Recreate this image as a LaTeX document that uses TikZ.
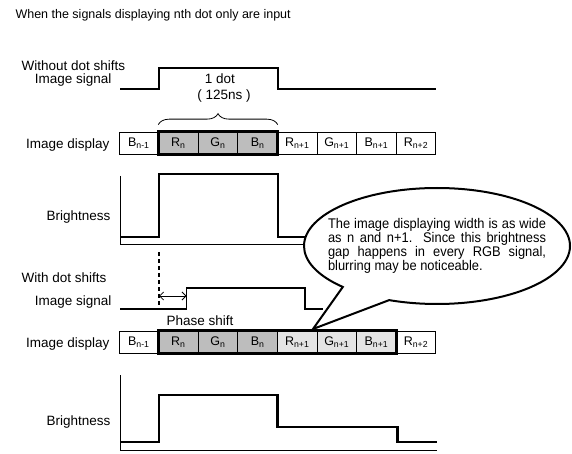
\documentclass[tikz,border=0pt]{standalone}
\usepackage{fontspec}
\setmainfont{Liberation Sans}
\newfontfamily\notefont[FakeStretch=0.92]{Liberation Sans}
\usepackage{xcolor}
\usetikzlibrary{arrows.meta, positioning, decorations.pathreplacing, shapes.callouts}

\definecolor{dotgray}{HTML}{BDBDBD}
\definecolor{nextgray}{HTML}{E4E4E4}

\tikzset{
  wave/.style={line width=2.2pt},
  thinwave/.style={line width=1.1pt},
  axis/.style={line width=0.8pt},
  lbl/.style={font=\fontsize{13.5}{15}\selectfont},
  cell/.style={draw, line width=0.7pt, minimum width=39.6pt, minimum height=22pt,
    inner sep=0pt, font=\fontsize{12.5}{14}\selectfont},
  group/.style={draw, line width=2.6pt},
}

\begin{document}
\begin{tikzpicture}[x=1pt, y=1pt]
  \useasboundingbox (0,0) rectangle (572,453);
  \node[anchor=base west, font=\fontsize{12.5}{14}\selectfont] (title) at (12,434)
    {When the signals displaying nth dot only are input};

  % ---------- WITHOUT DOT SHIFTS ----------
  \node[lbl, anchor=base west, inner ysep=1pt] (without) at (18,382) {Without dot shifts};
  \node[lbl, anchor=base east, inner ysep=1pt] (sig1) at (115,369) {Image signal};
  \draw[wave] (120,364) -- (159,364) |- (278,385) |- (436,364);
  \node[lbl, anchor=base] (onedot) at (220,369) {1 dot};
  \node[lbl, anchor=base] (period) at (224,353) {( 125ns )};

  \node[lbl, anchor=base east] (disp1) at (113,304) {Image display};
  \foreach \i/\t/\f in {0/B\textsubscript{n-1}/white, 1/R\textsubscript{n}/dotgray,
      2/G\textsubscript{n}/dotgray, 3/B\textsubscript{n}/dotgray,
      4/R\textsubscript{n+1}/white, 5/G\textsubscript{n+1}/white,
      6/B\textsubscript{n+1}/white, 7/R\textsubscript{n+2}/white}
    \node[cell, fill=\f] (a\i) at (138.8+39.6*\i,310) {\t};
  \draw[group] (a1.north west) rectangle (a3.south east);
  \draw[line width=0.8pt, decorate, decoration={brace, amplitude=11pt}]
    ([yshift=7pt]a1.north west) -- ([yshift=7pt]a3.north east);

  \node[lbl, anchor=base east] (bright1) at (114,233) {Brightness};
  \draw[axis] (120,277) |- (436,209);
  \draw[wave] (120,216) -- (159,216) |- (278,279) |- (436,216);

  % ---------- WITH DOT SHIFTS ----------
  \coordinate (edge) at (159,201);
  \coordinate (shift) at (159,157);
  \coordinate (rise) at (186.5,157);
  \draw[line width=1.8pt, dash pattern=on 4pt off 3pt] (edge) -- (159,148);

  \node[lbl, anchor=base west, inner ysep=1pt] (with) at (18,171) {With dot shifts};
  \node[lbl, anchor=base east, inner ysep=1pt] (sig2) at (115,148) {Image signal};
  \draw[thinwave] (120,144) -- (186.5,144) |- (305,165) |- (323,144);
  \draw[line width=0.8pt, {Straight Barb[length=4pt,width=8pt]}-{Straight Barb[length=4pt,width=8pt]}]
    (shift) -- (rise);
  \node[lbl, anchor=base west] (phase) at (163,128) {Phase shift};

  \node[lbl, anchor=base east] (disp2) at (113,106) {Image display};
  \foreach \i/\t/\f in {0/B\textsubscript{n-1}/white, 1/R\textsubscript{n}/dotgray,
      2/G\textsubscript{n}/dotgray, 3/B\textsubscript{n}/dotgray,
      4/R\textsubscript{n+1}/nextgray, 5/G\textsubscript{n+1}/nextgray,
      6/B\textsubscript{n+1}/nextgray, 7/R\textsubscript{n+2}/white}
    \node[cell, fill=\f] (b\i) at (138.8+39.6*\i,111) {\t};
  \draw[group] (b1.north west) rectangle (b6.south east);

  \node[lbl, anchor=base east] (bright2) at (114,28) {Brightness};
  \draw[axis] (120,78) |- (437,3);
  \draw[wave] (120,11) -- (159,11) |- (277.5,58) |- (397.5,26) |- (437,11);

  % ---------- NOTE ----------
  \coordinate (tip) at (313,124);
  \node[ellipse callout, draw, fill=white, line width=2pt, minimum width=266pt,
    minimum height=116pt, callout absolute pointer={(tip)}, callout pointer arc=24]
    (note) at (437,207) {};
  \node[font=\notefont\fontsize{14}{12.6}\selectfont, text width=218pt, align=justify,
    inner sep=0pt] (notetext) at (note.center)
    {The image displaying width is as wide\linebreak as n and n+1. Since this brightness\linebreak
     gap happens in every RGB signal,\linebreak blurring may be noticeable.};
\end{tikzpicture}
\end{document}
